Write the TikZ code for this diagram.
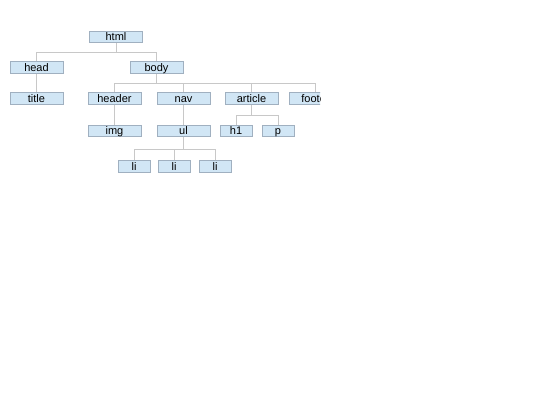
\documentclass[tikz,border=0pt]{standalone}
\usepackage{fontspec}
\setmainfont{Liberation Sans}
\usetikzlibrary{backgrounds}
\begin{document}
\begin{tikzpicture}[x=1pt,y=-1pt,
  box/.style={draw=boxline,fill=boxfill,line width=0.8pt,minimum width=53pt,minimum height=11.5pt,
    inner sep=0pt,font=\fontsize{11}{13}\selectfont,text height=7.9pt,text depth=0pt},
  sbox/.style={box,minimum width=32pt},
  edge/.style={draw=edgecol,line width=0.8pt}]
\definecolor{boxfill}{RGB}{209,230,245}
\definecolor{boxline}{RGB}{160,176,192}
\definecolor{edgecol}{RGB}{200,200,200}
\useasboundingbox (0,0) rectangle (540,405);
\begin{scope}
\clip (0,0) rectangle (320,405);
\coordinate (b1) at (0,52);
\coordinate (b2) at (0,83);
\coordinate (b3) at (0,115);
\coordinate (b4) at (0,149);
\node[box] (html) at (116,36.7) {html};
\node[box] (head) at (36.5,67.5) {head};
\node[box] (body) at (156.5,67.5) {body};
\node[box] (title) at (36.5,98.2) {title};
\node[box] (header) at (114.5,98.2) {header};
\node[box] (nav) at (183.5,98.2) {nav};
\node[box] (article) at (251.5,98.2) {article};
\node[box] (footer) at (315.5,98.2) {footer};
\node[box] (img) at (114.5,130.7) {img};
\node[box] (ul) at (183.5,130.7) {ul};
\node[sbox] (h1) at (236,130.7) {h1};
\node[sbox] (p) at (278,130.7) {p};
\node[sbox] (li1) at (134,166.2) {li};
\node[sbox] (li2) at (174,166.2) {li};
\node[sbox] (li3) at (215,166.2) {li};
\begin{scope}[on background layer]
\path[edge] (html.south) -- (html.south |- b1) -| (head.north);
\path[edge] (html.south |- b1) -| (body.north);
\path[edge] (head.south) -- (title.north);
\path[edge] (body.south) -- (body.south |- b2) -| (header.north);
\path[edge] (body.south |- b2) -| (nav.north);
\path[edge] (body.south |- b2) -| (article.north);
\path[edge] (body.south |- b2) -| (footer.north);
\path[edge] (header.south) -- (img.north);
\path[edge] (nav.south) -- (ul.north);
\path[edge] (article.south) -- (article.south |- b3) -| (h1.north);
\path[edge] (article.south |- b3) -| (p.north);
\path[edge] (ul.south) -- (ul.south |- b4) -| (li1.north);
\path[edge] (ul.south |- b4) -| (li2.north);
\path[edge] (ul.south |- b4) -| (li3.north);
\end{scope}
\end{scope}
\end{tikzpicture}
\end{document}
